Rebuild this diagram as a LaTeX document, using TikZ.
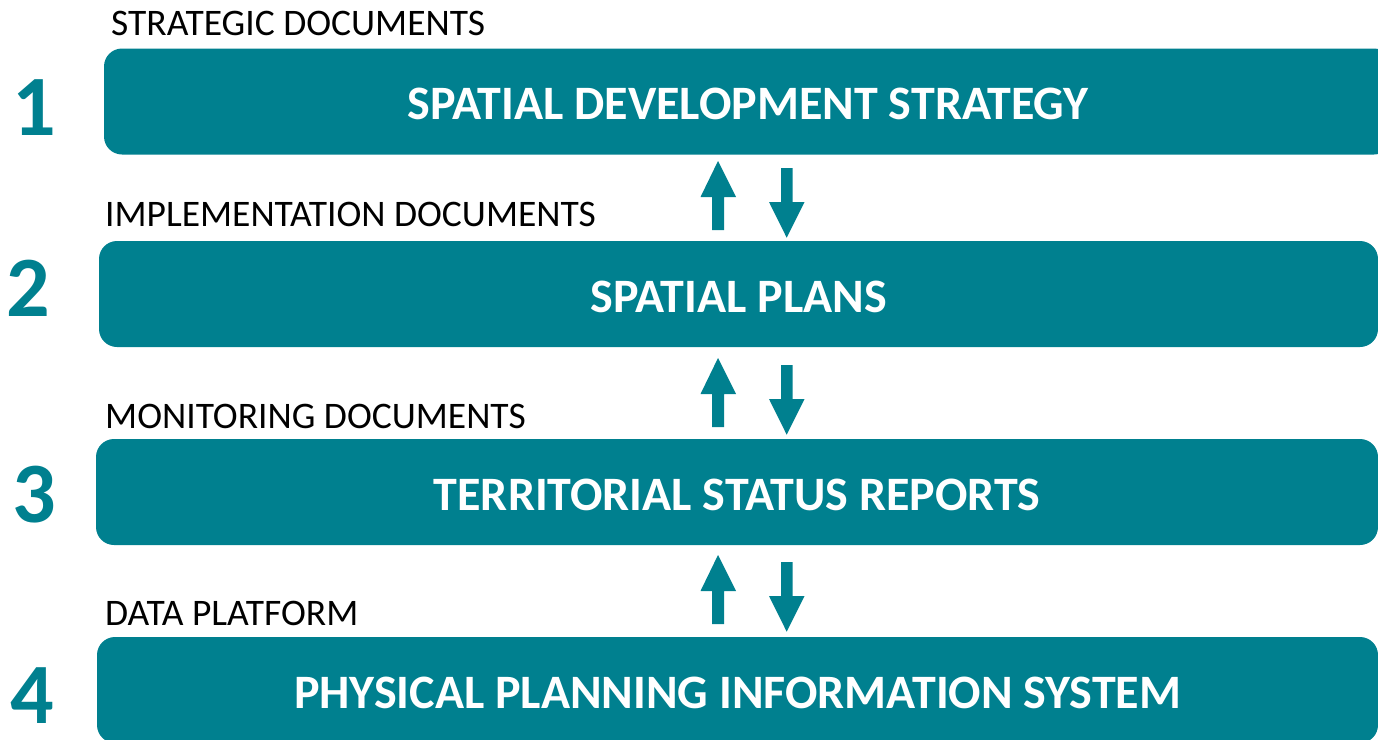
\documentclass[tikz,border=0pt]{standalone}
\usepackage{fontspec}
\setmainfont{Carlito}
\definecolor{tealbox}{RGB}{0,128,143}
\begin{document}
\begin{tikzpicture}[x=1pt,y=-1pt,
  box/.style={fill=tealbox, rounded corners=18pt, inner sep=0pt, minimum height=106pt,
    text=white, font=\fontsize{48}{54}\selectfont\bfseries, text height=36pt, text depth=0pt},
  num/.style={text=tealbox, inner sep=0pt, anchor=base, font=\fontsize{86}{90}\selectfont\bfseries},
  lbl/.style={text=black, inner sep=0pt, anchor=base west, font=\fontsize{37.5}{40}\selectfont},
  blockarrow/.style={fill=tealbox}]
\useasboundingbox (0,0) rectangle (1378,739);
\clip (0,0) rectangle (1378,739);
% boxes
\node[box, minimum width=1288pt] (b1) at (748,101.5) {SPATIAL DEVELOPMENT STRATEGY};
\node[box, minimum width=1279pt] (b2) at (738.5,294) {SPATIAL PLANS};
\node[box, minimum width=1282pt] (b3) at (737,492) {TERRITORIAL STATUS REPORTS};
\node[box, minimum width=1281pt] (b4) at (737.5,690) {PHYSICAL PLANNING INFORMATION SYSTEM};
% labels
\node[lbl] (l1) at (111,35) {STRATEGIC DOCUMENTS};
\node[lbl] (l2) at (105,226) {IMPLEMENTATION DOCUMENTS};
\node[lbl] (l3) at (105,428) {MONITORING DOCUMENTS};
\node[lbl] (l4) at (105,625) {DATA PLATFORM};
% numbers
\node[num] (n1) at (34.5,135) {1};
\node[num] (n2) at (28,316) {2};
\node[num] (n3) at (34,522) {3};
\node[num] (n4) at (32,723) {4};
% arrows
\foreach \dy in {0,197,394}{
  \begin{scope}[shift={(0,\dy)}]
    \fill[blockarrow] (718,161) -- (736,197) -- (724,197) -- (724,230) -- (712,230) -- (712,197) -- (700.5,197) -- cycle;
    \fill[blockarrow] (786.7,237.7) -- (804.5,202) -- (792.5,202) -- (792.5,168) -- (781,168) -- (781,202) -- (769,202) -- cycle;
  \end{scope}
}
\end{tikzpicture}
\end{document}
